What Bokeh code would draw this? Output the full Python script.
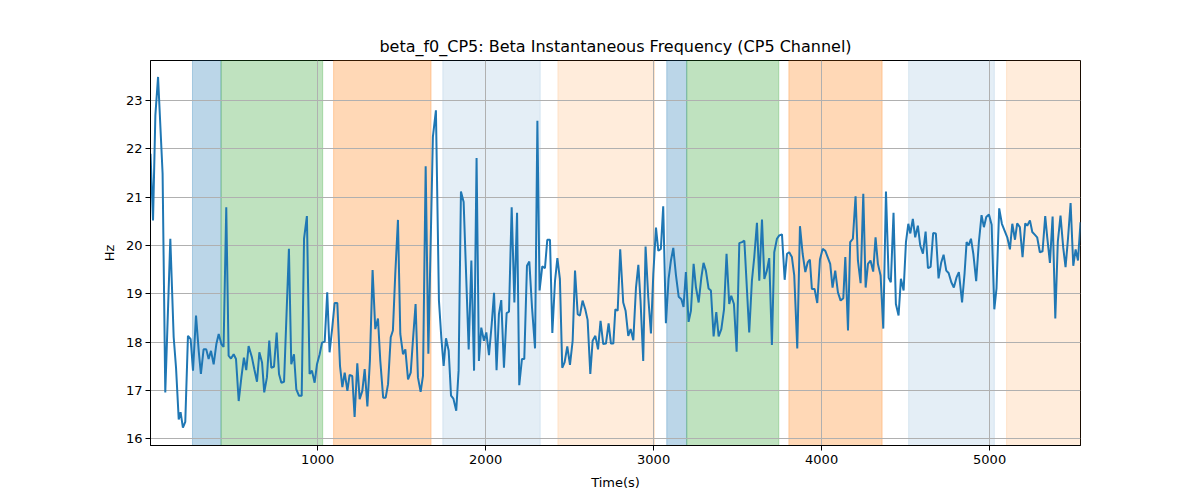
from bokeh.plotting import figure
from bokeh.models import Range1d, FixedTicker, ColumnDataSource
from bokeh.embed import file_html
from bokeh.resources import INLINE

# ---- data ----
time_s = [5, 20, 34, 50, 77, 93, 123, 143, 157, 173, 184, 198, 212, 228, 244, 258, 276, 292, 305, 321,
          337, 351, 365, 381, 397, 411, 427, 440, 456, 470, 484, 500, 514, 530, 546, 561, 575, 589, 609, 623,
          639, 653, 669, 682, 698, 712, 724, 740, 756, 770, 784, 800, 829, 843, 859, 873, 889, 905, 919, 936,
          952, 966, 982, 996, 1012, 1026, 1042, 1057, 1071, 1087, 1101, 1117, 1133, 1147, 1161, 1177, 1190, 1206, 1220, 1236,
          1250, 1266, 1280, 1296, 1311, 1327, 1343, 1359, 1373, 1390, 1405, 1419, 1435, 1448, 1462, 1478, 1492, 1508, 1522, 1538,
          1554, 1567, 1583, 1597, 1613, 1627, 1643, 1659, 1686, 1704, 1722, 1736, 1750, 1764, 1780, 1794, 1808, 1825, 1839, 1853,
          1869, 1899, 1915, 1931, 1946, 1960, 1974, 1990, 2004, 2020, 2036, 2050, 2065, 2079, 2093, 2109, 2125, 2139, 2155, 2171,
          2187, 2200, 2216, 2230, 2246, 2260, 2276, 2294, 2308, 2321, 2337, 2353, 2367, 2383, 2397, 2413, 2427, 2442, 2456, 2470,
          2486, 2502, 2518, 2532, 2548, 2561, 2577, 2593, 2607, 2623, 2637, 2653, 2669, 2684, 2700, 2716, 2732, 2746, 2760, 2772,
          2786, 2801, 2819, 2833, 2849, 2863, 2879, 2895, 2909, 2922, 2938, 2952, 2968, 2984, 2998, 3014, 3028, 3043, 3057, 3073,
          3089, 3103, 3117, 3133, 3149, 3165, 3178, 3192, 3208, 3222, 3238, 3252, 3268, 3284, 3297, 3311, 3327, 3341, 3357, 3373,
          3387, 3403, 3419, 3434, 3450, 3462, 3478, 3494, 3510, 3526, 3540, 3569, 3585, 3599, 3615, 3629, 3645, 3659, 3674, 3688,
          3704, 3718, 3734, 3748, 3764, 3780, 3794, 3807, 3823, 3837, 3855, 3871, 3887, 3903, 3917, 3930, 3942, 3958, 3974, 3990,
          4006, 4022, 4036, 4051, 4065, 4081, 4097, 4113, 4129, 4141, 4157, 4170, 4186, 4202, 4216, 4232, 4248, 4262, 4276, 4291,
          4307, 4321, 4335, 4351, 4367, 4383, 4399, 4412, 4428, 4442, 4458, 4472, 4488, 4502, 4516, 4528, 4543, 4557, 4573, 4587,
          4603, 4619, 4633, 4649, 4664, 4680, 4696, 4712, 4726, 4742, 4756, 4772, 4787, 4803, 4817, 4836, 4851, 4863, 4875, 4889,
          4903, 4920, 4936, 4952, 4966, 4980, 4996, 5012, 5028, 5041, 5057, 5073, 5089, 5105, 5121, 5135, 5151, 5164, 5180, 5196,
          5212, 5224, 5240, 5254, 5270, 5283, 5299, 5315, 5331, 5343, 5359, 5375, 5391, 5406, 5422, 5438, 5452, 5466, 5482, 5498,
          5512, 5526, 5541]

freq_hz = [21.90, 20.52, 22.70, 23.49, 21.49, 16.96, 20.14, 18.10, 17.47, 16.40, 16.55, 16.23, 16.35, 18.13, 18.06, 17.41, 18.55, 17.82, 17.34, 17.85,
           17.85, 17.65, 17.82, 17.54, 17.96, 18.17, 17.96, 17.90, 20.79, 17.72, 17.66, 17.75, 17.65, 16.78, 17.27, 17.68, 17.42, 17.92, 17.68, 17.44,
           17.18, 17.79, 17.58, 16.96, 17.27, 18.03, 17.47, 17.49, 18.20, 17.34, 17.16, 17.18, 19.93, 17.54, 17.75, 17.02, 16.89, 16.89, 20.14, 20.61,
           17.34, 17.41, 17.16, 17.54, 17.75, 17.99, 18.01, 19.03, 17.79, 18.30, 18.81, 18.81, 17.51, 17.07, 17.37, 16.99, 17.32, 17.30, 16.45, 17.56,
           16.82, 16.99, 17.44, 16.67, 17.61, 19.49, 18.27, 18.49, 17.61, 16.85, 16.85, 17.13, 18.10, 18.24, 19.41, 20.53, 18.17, 17.75, 17.85, 17.23,
           17.37, 18.03, 18.79, 17.27, 16.97, 17.30, 21.64, 17.76, 22.25, 22.80, 18.86, 18.10, 17.51, 18.08, 17.82, 16.89, 16.83, 16.58, 17.41, 21.12,
           20.90, 17.85, 19.69, 17.41, 21.81, 17.61, 18.30, 18.03, 18.20, 17.73, 18.37, 19.02, 17.42, 18.58, 18.87, 17.47, 18.60, 18.63, 20.79, 18.82,
           20.68, 17.11, 17.65, 17.65, 19.58, 19.67, 18.72, 17.87, 22.58, 19.07, 19.57, 19.53, 20.12, 20.12, 18.19, 19.27, 19.74, 19.31, 17.47, 17.58,
           17.91, 17.53, 18.03, 19.48, 18.58, 18.55, 18.86, 18.68, 18.46, 17.34, 18.03, 18.13, 17.85, 18.44, 17.96, 17.97, 18.39, 17.97, 17.97, 18.68,
           18.65, 19.92, 18.82, 18.65, 18.13, 18.27, 18.04, 19.13, 19.60, 18.86, 17.61, 19.98, 18.93, 18.18, 19.41, 20.37, 19.89, 19.93, 20.81, 18.39,
           19.31, 19.69, 19.95, 19.38, 18.94, 18.89, 18.73, 19.45, 18.42, 18.65, 19.62, 19.13, 18.82, 19.34, 19.64, 19.48, 19.11, 19.07, 18.12, 18.62,
           18.12, 18.27, 18.68, 19.83, 18.79, 18.96, 18.79, 17.80, 20.05, 20.07, 20.10, 18.20, 19.27, 19.76, 20.47, 19.27, 20.54, 19.31, 19.48, 19.74,
           17.94, 19.86, 20.14, 20.21, 20.23, 19.29, 19.83, 19.86, 19.76, 19.38, 17.87, 20.40, 19.83, 19.45, 19.65, 19.71, 19.10, 19.10, 18.81, 19.71,
           19.93, 19.89, 19.76, 19.62, 19.13, 19.48, 19.03, 18.86, 18.91, 19.76, 18.24, 20.07, 20.14, 21.02, 19.69, 19.22, 21.07, 19.13, 19.62, 19.69,
           19.46, 20.17, 19.62, 19.38, 18.28, 21.12, 19.33, 19.24, 20.68, 18.79, 18.55, 19.31, 19.07, 20.07, 20.45, 20.25, 20.55, 20.17, 20.41, 20.00,
           19.83, 20.29, 19.53, 19.56, 20.26, 20.25, 19.32, 19.65, 19.81, 19.48, 19.43, 19.24, 19.13, 19.34, 19.45, 18.82, 19.43, 20.07, 20.00, 20.14,
           19.83, 19.26, 20.07, 20.63, 20.38, 20.59, 20.64, 20.43, 18.68, 19.11, 20.77, 20.45, 20.31, 20.17, 19.92, 20.45, 20.12, 20.46, 20.38, 19.76,
           20.46, 20.41, 20.52, 20.28, 20.22, 20.17, 19.86, 19.88, 20.61, 20.17, 19.64, 20.60, 18.49, 20.08, 20.62, 19.96, 19.55, 20.12, 20.88, 19.58,
           19.92, 19.69, 20.48]

band_start = [255, 425, 1095, 1745, 2430, 3078, 3197, 3805, 4518, 5101]
band_end = [425, 1030, 1675, 2325, 3005, 3197, 3745, 4360, 5028, 5545]
band_color = ["#1f77b4", "#2ca02c", "#ff7f0e", "#1f77b4", "#ff7f0e",
              "#1f77b4", "#2ca02c", "#ff7f0e", "#1f77b4", "#ff7f0e"]
band_alpha = [0.3, 0.3, 0.3, 0.12, 0.15, 0.3, 0.3, 0.3, 0.12, 0.15]

y_ticks = [16, 17, 18, 19, 20, 21, 22, 23]
x_ticks = [1000, 2000, 3000, 4000, 5000]

FONT = "DejaVu Sans"

p = figure(frame_width=930, frame_height=385,
           min_border_left=150, min_border_right=112, min_border_top=60, min_border_bottom=47,
           output_backend="svg", toolbar_location=None,
           x_range=Range1d(5, 5541), y_range=Range1d(15.86, 23.83),
           title="beta_f0_CP5: Beta Instantaneous Frequency (CP5 Channel)")

p.title.align = "center"
p.title.text_font = FONT
p.title.text_font_size = "16px"
p.title.text_font_style = "normal"
p.title.text_color = "black"

band_src = ColumnDataSource(dict(left=band_start, right=band_end, color=band_color, alpha=band_alpha))
p.quad(left="left", right="right", bottom=15.86, top=23.83, source=band_src,
       fill_color="color", fill_alpha="alpha", line_color="color", line_alpha="alpha",
       line_width=1, level="image")

p.line(time_s, freq_hz, line_color="#1f77b4", line_width=2)

for ax in (p.xaxis[0], p.yaxis[0]):
    ax.major_label_text_font = FONT
    ax.major_label_text_font_size = "13px"
    ax.major_label_text_color = "black"
    ax.axis_label_text_font = FONT
    ax.axis_label_text_font_size = "13px"
    ax.axis_label_text_font_style = "normal"
    ax.axis_label_text_color = "black"
    ax.major_tick_out = 5
    ax.major_tick_in = 0
    ax.minor_tick_out = 0
    ax.minor_tick_in = 0
    ax.axis_line_color = "black"
    ax.major_tick_line_color = "black"

p.xaxis.ticker = FixedTicker(ticks=x_ticks)
p.yaxis.ticker = FixedTicker(ticks=y_ticks)
p.xaxis.axis_label = "Time(s)"
p.yaxis.axis_label = "Hz"
p.xaxis.major_label_standoff = 4
p.yaxis.major_label_standoff = 3
p.xaxis.axis_label_standoff = 8
p.yaxis.axis_label_standoff = 6

p.xgrid.grid_line_color = "#b0b0b0"
p.ygrid.grid_line_color = "#b0b0b0"
p.xgrid.grid_line_width = 1
p.ygrid.grid_line_width = 1

p.outline_line_color = "black"
p.outline_line_alpha = 1
p.outline_line_width = 1
p.background_fill_color = "white"
p.border_fill_color = "white"

open("out.html", "w").write(file_html(p, INLINE))
